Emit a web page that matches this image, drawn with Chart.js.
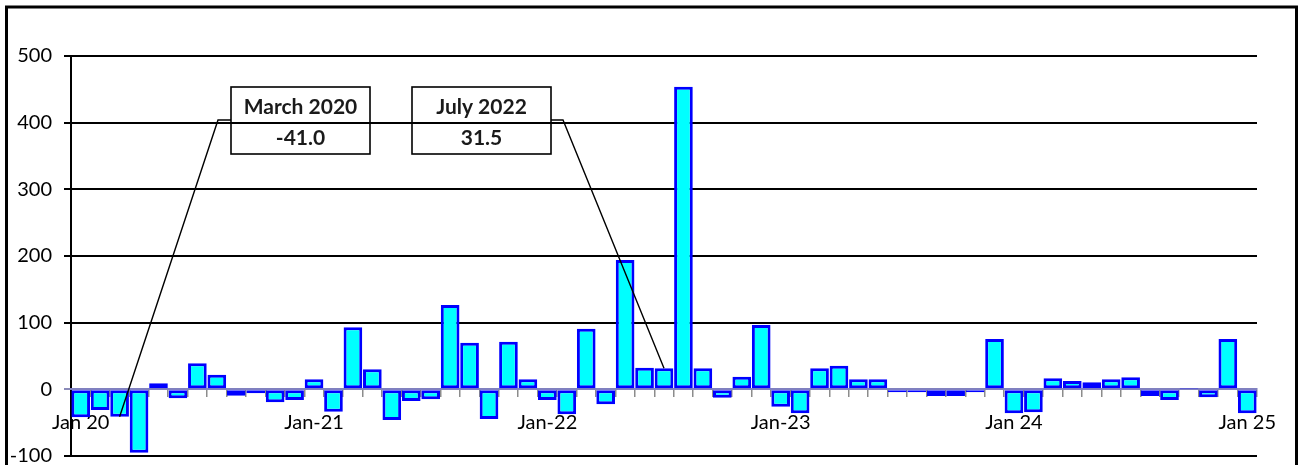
<!DOCTYPE html>
<html>
<head>
<meta charset="utf-8">
<script src="https://cdn.jsdelivr.net/npm/chart.js@4/dist/chart.umd.min.js"></script>
<style>
  html, body { margin: 0; padding: 0; background: #fff; }
  #wrap { position: relative; width: 1300px; height: 465px; overflow: hidden; }
  canvas { display: block; }
</style>
</head>
<body>
<div id="wrap"><canvas id="c" width="1300" height="465"></canvas></div>
<script>
// ---- data ----
const months = [
  'Jan 2020','Feb 2020','Mar 2020','Apr 2020','May 2020','Jun 2020','Jul 2020','Aug 2020','Sep 2020','Oct 2020','Nov 2020','Dec 2020',
  'Jan 2021','Feb 2021','Mar 2021','Apr 2021','May 2021','Jun 2021','Jul 2021','Aug 2021','Sep 2021','Oct 2021','Nov 2021','Dec 2021',
  'Jan 2022','Feb 2022','Mar 2022','Apr 2022','May 2022','Jun 2022','Jul 2022','Aug 2022','Sep 2022','Oct 2022','Nov 2022','Dec 2022',
  'Jan 2023','Feb 2023','Mar 2023','Apr 2023','May 2023','Jun 2023','Jul 2023','Aug 2023','Sep 2023','Oct 2023','Nov 2023','Dec 2023',
  'Jan 2024','Feb 2024','Mar 2024','Apr 2024','May 2024','Jun 2024','Jul 2024','Aug 2024','Sep 2024','Oct 2024','Nov 2024','Dec 2024',
  'Jan 2025'
];
const values = [
  -42, -31, -41, -95, 9, -13.5, 39, 22, -9.5, -6, -19.5, -16,
  15, -33.5, 93, 30, -46, -17.5, -15, 126.5, 70, -44.5, 71.5, 15,
  -16, -37.5, 91, -22.5, 194, 32.5, 31.5, 454, 31.5, -12.5, 19, 96.5,
  -26, -36, 31.5, 35.5, 15, 15, -4.5, -4.5, -10, -10, -4.5, 75.5,
  -36, -34.5, 16.5, 12.5, 10.5, 15, 18, -10, -16, 1, -12, 75.5,
  -36
];
const xTickMonths = ['Jan 2020','Jan 2021','Jan 2022','Jan 2023','Jan 2024','Jan 2025'];
const xTickLabels = ['Jan 20','Jan-21','Jan-22','Jan-23','Jan 24','Jan 25'];
const yTicks = [-100, 0, 100, 200, 300, 400, 500];
const calloutMonths = ['Mar 2020', 'Jul 2022'];
const calloutTitles = ['March 2020', 'July 2022'];

// ---- plugins ----
const frame = {
  id: 'frame',
  afterDraw(chart) {
    const ctx = chart.ctx;
    ctx.save();
    ctx.strokeStyle = '#000';
    ctx.lineWidth = 3;
    ctx.beginPath();
    ctx.moveTo(6.5, 470); ctx.lineTo(6.5, 7); ctx.lineTo(1296.5, 7); ctx.lineTo(1296.5, 470);
    ctx.stroke();
    ctx.restore();
  }
};

const callouts = {
  id: 'callouts',
  afterDraw(chart, args, opts) {
    const { ctx } = chart;
    const x = chart.scales.x, y = chart.scales.y;
    ctx.save();
    opts.boxes.forEach((b, i) => {
      const idx = months.indexOf(calloutMonths[i]);
      const v = values[idx];
      const px = x.getPixelForValue(idx);
      const py = y.getPixelForValue(v);
      ctx.strokeStyle = '#000';
      ctx.lineWidth = 1.6;
      ctx.strokeRect(b.left, b.top, b.width, b.height);
      const ey = b.top + 33;
      const sx = b.side === 'left' ? b.left : b.left + b.width;
      const kx = b.side === 'left' ? sx - 13 : sx + 12;
      ctx.lineWidth = 1.4;
      ctx.beginPath();
      ctx.moveTo(sx, ey); ctx.lineTo(kx, ey); ctx.lineTo(px, py);
      ctx.stroke();
      ctx.fillStyle = '#1a1a1a';
      ctx.font = 'bold 21px Lato';
      ctx.textAlign = 'center';
      ctx.textBaseline = 'middle';
      const cx = b.left + b.width / 2;
      ctx.fillText(calloutTitles[i], cx, b.top + 20);
      ctx.fillText(v.toFixed(1), cx, b.top + 51);
    });
    ctx.restore();
  }
};

new Chart(document.getElementById('c'), {
  type: 'bar',
  data: {
    labels: months,
    datasets: [{
      data: values,
      backgroundColor: '#00FFFF',
      borderColor: '#0000FF',
      borderWidth: 3,
      borderSkipped: false,
      barPercentage: 0.96,
      categoryPercentage: 1.0
    }]
  },
  options: {
    responsive: false,
    animation: false,
    layout: { padding: { left: 0, right: 43, top: 56, bottom: 9 } },
    plugins: {
      legend: { display: false },
      tooltip: { enabled: false },
      callouts: {
        boxes: [
          { left: 231, top: 87, width: 139, height: 67, side: 'left' },
          { left: 412, top: 87, width: 139, height: 67, side: 'right' }
        ]
      }
    },
    scales: {
      y: {
        min: -100, max: 500,
        afterFit(s) { s.width = 71; s.paddingTop = 0; s.paddingBottom = 0; },
        afterBuildTicks(s) { s.ticks = yTicks.map(v => ({ value: v })); },
        ticks: { color: '#000', font: { family: 'Lato', size: 20 }, padding: 12 },
        grid: {
          color: (c) => (c.tick && c.tick.value === 0) ? '#8a8ab8' : '#000',
          lineWidth: 2,
          tickLength: 7
        },
        border: { color: '#000', width: 2 }
      },
      x: {
        position: { y: 0 },
        z: 1,
        offset: true,
        afterFit(s) { s.height = 0; s.paddingLeft = 0; s.paddingRight = 0; },
        ticks: {
          autoSkip: false,
          maxRotation: 0,
          minRotation: 0,
          color: '#000',
          font: { family: 'Lato', size: 20 },
          padding: 14,
          callback(v, i) {
            const k = xTickMonths.indexOf(months[i]);
            return k >= 0 ? xTickLabels[k] : '';
          }
        },
        grid: {
          offset: true,
          drawOnChartArea: false,
          color: '#8c8c8c',
          lineWidth: 1.5,
          tickLength: 7
        },
        border: { color: '#8080c0', width: 2 }
      }
    }
  },
  plugins: [callouts, frame]
});
</script>
</body>
</html>
